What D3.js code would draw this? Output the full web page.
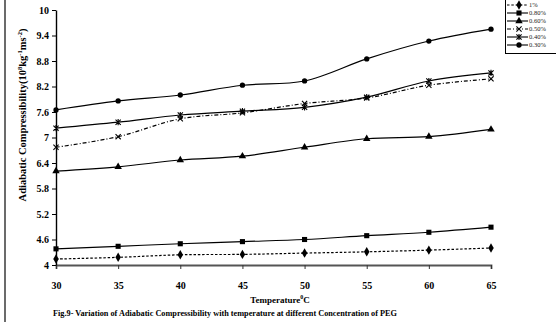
<!DOCTYPE html>
<html>
<head>
<meta charset="utf-8">
<script src="https://cdn.jsdelivr.net/npm/d3@7"></script>
<style>
    body { margin: 0; background: #fff; }
    svg text { font-family: 'Liberation Serif', 'Times New Roman', serif; }
</style>
</head>
<body>
<div id="chart"></div>
<script>
// temperatures (deg C) on the x axis
const temperatures = [30, 35, 40, 45, 50, 55, 60, 65];
const yTicks = [4, 4.6, 5.2, 5.8, 6.4, 7, 7.6, 8.2, 8.8, 9.4, 10];

// adiabatic compressibility per PEG concentration
const peg1 = [4.14, 4.18, 4.24, 4.25, 4.28, 4.31, 4.35, 4.40];
const peg080 = [4.38, 4.44, 4.50, 4.55, 4.60, 4.69, 4.77, 4.89];
const peg060 = [6.21, 6.31, 6.47, 6.56, 6.77, 6.97, 7.02, 7.19];
const peg050 = [6.77, 7.02, 7.44, 7.58, 7.80, 7.93, 8.23, 8.38];
const peg040 = [7.22, 7.36, 7.53, 7.62, 7.71, 7.95, 8.33, 8.52];
const peg030 = [7.65, 7.86, 8.00, 8.23, 8.33, 8.85, 9.27, 9.55];

const seriesNames = ['1%', '0.80%', '0.60%', '0.50%', '0.40%', '0.30%'];
const seriesValues = [peg1, peg080, peg060, peg050, peg040, peg030];

const series = seriesNames.map((name, i) => ({
    name: name,
    values: seriesValues[i].map((v, j) => ({ t: temperatures[j], v: v }))
}));

const styles = {
    '1%': { dash: '2.5,1.8', marker: 'diamond' },
    '0.80%': { dash: null, marker: 'square' },
    '0.60%': { dash: null, marker: 'triangle' },
    '0.50%': { dash: '4,2,1,2', marker: 'cross' },
    '0.40%': { dash: null, marker: 'star' },
    '0.30%': { dash: null, marker: 'circle' }
};

const width = 556;
const height = 322;
const margin = { top: 10, right: 65, bottom: 57, left: 56 };

const svg = d3.select('#chart').append('svg')
    .attr('width', width)
    .attr('height', height);

// grey frame line on the left edge of the scanned figure
svg.append('rect')
    .attr('x', 4).attr('y', 0)
    .attr('width', 2).attr('height', height)
    .attr('fill', '#6b6b6b');

const x = d3.scaleLinear()
    .domain([30, 65])
    .range([margin.left, width - margin.right]);

const y = d3.scaleLinear()
    .domain([4, 10])
    .range([height - margin.bottom, margin.top]);

// x axis
const xAxis = svg.append('g')
    .attr('transform', 'translate(0,' + (height - margin.bottom) + ')')
    .call(d3.axisBottom(x).tickValues(temperatures).tickSize(4).tickPadding(13).tickSizeOuter(4))
    .attr('font-family', null);
xAxis.select('.domain').attr('stroke', '#555').attr('stroke-width', 1.8);
xAxis.selectAll('.tick line').attr('stroke', '#333');
xAxis.selectAll('text')
    .attr('fill', '#000')
    .style('font-size', '10px')
    .style('font-weight', 'bold');

// y axis
const yAxis = svg.append('g')
    .attr('transform', 'translate(' + margin.left + ',0)')
    .call(d3.axisLeft(y).tickValues(yTicks).tickFormat(d3.format('~g')).tickSize(4).tickPadding(3).tickSizeOuter(0))
    .attr('font-family', null);
yAxis.select('.domain').attr('stroke', '#000').attr('stroke-width', 1.4);
yAxis.selectAll('text')
    .attr('fill', '#000')
    .style('font-size', '10px')
    .style('font-weight', 'bold');

// axis titles
const xTitle = svg.append('text')
    .attr('x', 280)
    .attr('y', 303)
    .attr('text-anchor', 'middle')
    .style('font-size', '9px')
    .style('font-weight', 'bold');
xTitle.append('tspan').text('Temperature');
xTitle.append('tspan').attr('dy', -4).style('font-size', '6px').text('0');
xTitle.append('tspan').attr('dy', 4).text('C');

const yTitle = svg.append('text')
    .attr('transform', 'translate(26,115) rotate(-90)')
    .attr('text-anchor', 'middle')
    .style('font-size', '10.5px')
    .style('font-weight', 'bold');
yTitle.append('tspan').text('Adiabatic Compressibility(10');
yTitle.append('tspan').attr('dy', -4).style('font-size', '6.5px').text('8');
yTitle.append('tspan').attr('dy', 4).text('kg');
yTitle.append('tspan').attr('dy', -4).style('font-size', '6.5px').text('-1');
yTitle.append('tspan').attr('dy', 4).text('ms');
yTitle.append('tspan').attr('dy', -4).style('font-size', '6.5px').text('-2');
yTitle.append('tspan').attr('dy', 4).text(')');

svg.append('text')
    .attr('x', 53)
    .attr('y', 316)
    .attr('textLength', 344)
    .attr('lengthAdjust', 'spacingAndGlyphs')
    .style('font-size', '8.5px')
    .style('font-weight', 'bold')
    .text('Fig.9- Variation of Adiabatic Compressibility with temperature at different Concentration of PEG');

// marker drawing
function drawMarker(g, type, cx, cy) {
    if (type === 'cross' || type === 'star') {
        const s = 2.6;
        g.append('path')
            .attr('d', 'M' + (cx - s) + ',' + (cy - s) + 'L' + (cx + s) + ',' + (cy + s) +
                'M' + (cx - s) + ',' + (cy + s) + 'L' + (cx + s) + ',' + (cy - s) +
                (type === 'star' ? 'M' + cx + ',' + (cy - s - 0.5) + 'L' + cx + ',' + (cy + s + 0.5) : ''))
            .attr('stroke', '#000')
            .attr('stroke-width', 1.1)
            .attr('fill', 'none');
        return;
    }
    const symbolType = {
        diamond: d3.symbolDiamond,
        square: d3.symbolSquare,
        triangle: d3.symbolTriangle,
        circle: d3.symbolCircle
    }[type];
    const size = { diamond: 26, square: 26, triangle: 24, circle: 22 }[type];
    g.append('path')
        .attr('d', d3.symbol().type(symbolType).size(size)())
        .attr('transform', 'translate(' + cx + ',' + cy + ')')
        .attr('fill', '#000');
}

const line = d3.line()
    .x(d => x(d.t))
    .y(d => y(d.v))
    .curve(d3.curveCatmullRom.alpha(0.5));

const plot = svg.append('g');
series.forEach(s => {
    const st = styles[s.name];
    plot.append('path')
        .datum(s.values)
        .attr('d', line)
        .attr('fill', 'none')
        .attr('stroke', '#000')
        .attr('stroke-width', 1.2)
        .attr('stroke-dasharray', st.dash);
    const mg = plot.append('g');
    s.values.forEach(d => drawMarker(mg, st.marker, x(d.t), y(d.v)));
});

// legend
const legend = svg.append('g');
legend.append('rect')
    .attr('x', 505.5).attr('y', -1)
    .attr('width', 60).attr('height', 54.5)
    .attr('fill', '#fff')
    .attr('stroke', '#000')
    .attr('stroke-width', 1);

series.forEach((s, i) => {
    const st = styles[s.name];
    const ly = 5 + i * 8;
    legend.append('line')
        .attr('x1', 507).attr('x2', 528)
        .attr('y1', ly).attr('y2', ly)
        .attr('stroke', '#000')
        .attr('stroke-width', 1.1)
        .attr('stroke-dasharray', st.dash);
    drawMarker(legend, st.marker, 519, ly);
    legend.append('text')
        .attr('x', 529)
        .attr('y', ly + 2.3)
        .style('font-size', '6.5px')
        .style('fill', '#222')
        .text(s.name);
});
</script>
</body>
</html>
